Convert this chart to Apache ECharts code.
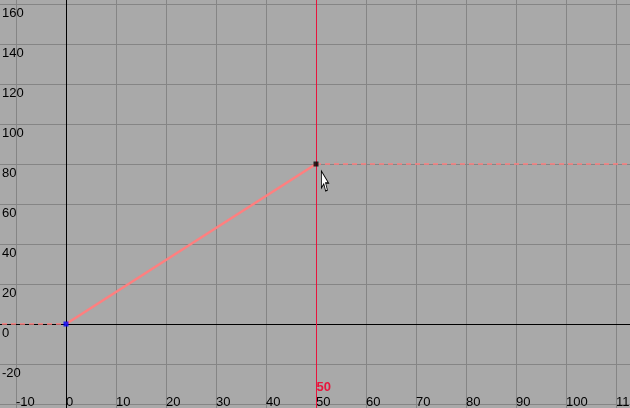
<!DOCTYPE html>
<html>
<head>
<meta charset="utf-8">
<script src="https://cdn.jsdelivr.net/npm/echarts@6/dist/echarts.min.js"></script>
<style>
  html, body { margin: 0; padding: 0; background: #a9a9a9; }
  #chart { width: 630px; height: 408px; }
</style>
</head>
<body>
<div id="chart"></div>
<script>
// 关键帧数据
var keyTimes = [0, 50];
var keyValues = [0, 80];
var keyColors = ['#0000ff', '#000000'];
var currentTime = 50;
var xRange = [-20, 120];
var yRange = [-60, 180];

var chart = echarts.init(document.getElementById('chart'));
var gridColor = '#858585';
var curveColor = '#ff7f7f';
var labelFont = { color: '#000', fontFamily: 'Liberation Sans', fontSize: 13 };

var keys = keyTimes.map(function (t, i) { return [t, keyValues[i]]; });
var last = keys.length - 1;
var preInfinity = [[xRange[0], keyValues[0]], keys[0]];
var postInfinity = [keys[last], [xRange[1], keyValues[last]]];

var option = {
  backgroundColor: '#a9a9a9',
  animation: false,
  grid: {
    left: -34, right: -36, top: -36, bottom: -36,
    outerBoundsMode: 'none'
  },
  xAxis: {
    type: 'value',
    min: xRange[0], max: xRange[1], interval: 10,
    axisLine: { show: false },
    axisTick: { show: false },
    splitLine: { lineStyle: { color: gridColor, width: 1 } },
    axisLabel: Object.assign({ inside: true, margin: 35, align: 'left', verticalAlign: 'bottom' }, labelFont)
  },
  yAxis: {
    type: 'value',
    min: yRange[0], max: yRange[1], interval: 20,
    axisLine: { show: false },
    axisTick: { show: false },
    splitLine: { lineStyle: { color: gridColor, width: 1 } },
    axisLabel: Object.assign({ inside: true, margin: 36, align: 'left', verticalAlign: 'top', padding: [3, 0, 0, 0] }, labelFont)
  },
  series: [
    {
      // 坐标轴零线
      type: 'line', data: [], silent: true, z: 1,
      markLine: {
        silent: true, symbol: 'none', label: { show: false }, z: 1,
        data: [
          { xAxis: 0, lineStyle: { color: '#000', width: 1, type: 'solid' } },
          { yAxis: 0, lineStyle: { color: '#000', width: 1, type: 'solid' } }
        ]
      }
    },
    {
      type: 'line', data: preInfinity, symbol: 'none', z: 3,
      lineStyle: { color: curveColor, width: 1.5, type: [5, 4] }
    },
    {
      type: 'line', data: postInfinity, symbol: 'none', z: 3,
      lineStyle: { color: curveColor, width: 1.5, type: [5, 4] }
    },
    {
      type: 'line', data: keys, symbol: 'none', z: 4,
      lineStyle: { color: curveColor, width: 2.5 },
      markLine: {
        silent: true, symbol: 'none', label: { show: false },
        data: [{ xAxis: currentTime, lineStyle: { color: '#e8143c', width: 1, type: 'solid' } }]
      },
      markPoint: {
        silent: true,
        data: [
          {
            coord: [currentTime, -31.5], symbol: 'rect', symbolSize: 1,
            itemStyle: { color: 'rgba(0,0,0,0)' },
            label: {
              show: true, position: 'right', distance: 0,
              formatter: String(currentTime),
              color: '#e8143c', fontWeight: 'bold', fontFamily: 'Liberation Sans', fontSize: 13
            }
          },
          {
            // 鼠标指针
            coord: keys[last],
            symbol: 'path://M0,0 L0,17 L4,13 L7,20 L10,19 L7,12 L12,12 Z',
            symbolSize: [12, 20], symbolOffset: [9, 17], symbolKeepAspect: true,
            itemStyle: { color: '#fff', borderColor: '#000', borderWidth: 1 },
            label: { show: false }
          }
        ]
      }
    },
    {
      type: 'scatter', z: 6,
      symbol: 'rect', symbolSize: 5,
      data: keys.map(function (k, i) { return { value: k, itemStyle: { color: keyColors[i] } }; })
    }
  ]
};
chart.setOption(option, true);
</script>
</body>
</html>
